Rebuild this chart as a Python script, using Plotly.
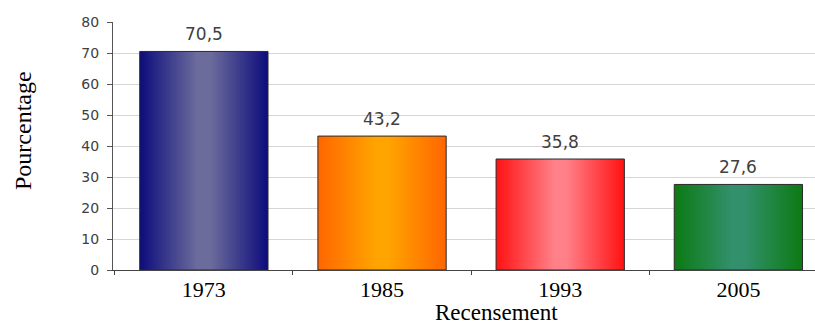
import plotly.graph_objects as go

# Census years and share (%) per year
years = ["1973", "1985", "1993", "2005"]
values = [70.5, 43.2, 35.8, 27.6]

# Edge / centre colours of the horizontal gradient on each bar
edge_colors = ["#0c0c7c", "#ff6600", "#ff1212", "#0b7a12"]
center_colors = ["#6c6c9c", "#ffa400", "#ff8088", "#32906c"]

y_ticks = list(range(0, 81, 10))

half_width = 0.36
positions = list(range(len(years)))

fig = go.Figure()

for pos, val, edge, center in zip(positions, values, edge_colors, center_colors):
    fig.add_trace(go.Scatter(
        x=[pos - half_width, pos + half_width, pos + half_width, pos - half_width, pos - half_width],
        y=[0, 0, val, val, 0],
        mode="lines",
        fill="toself",
        fillgradient=dict(
            type="horizontal",
            colorscale=[[0, edge], [0.45, center], [0.55, center], [1, edge]],
        ),
        line=dict(color="#2a2a2a", width=1),
        hoverinfo="skip",
        showlegend=False,
    ))

# Value labels above each bar (decimal comma)
for pos, val in zip(positions, values):
    fig.add_annotation(
        x=pos, y=val, xref="x", yref="y",
        text=f"{val:.1f}".replace(".", ","),
        showarrow=False, yanchor="bottom", yshift=5,
        font=dict(family="DejaVu Sans", size=17, color="#404040"),
    )

# Axis titles
fig.add_annotation(
    x=0.5456, y=-0.173, xref="paper", yref="paper",
    text="Recensement", showarrow=False,
    xanchor="center", yanchor="middle",
    font=dict(family="Liberation Serif", size=23, color="#000000"),
)
fig.add_annotation(
    x=-0.1282, y=0.5605, xref="paper", yref="paper",
    text="Pourcentage", showarrow=False, textangle=-90,
    xanchor="center", yanchor="middle",
    font=dict(family="Liberation Serif", size=24, color="#000000"),
)

fig.update_layout(
    width=815, height=326,
    margin=dict(l=113, r=0, t=22, b=56),
    paper_bgcolor="white", plot_bgcolor="white",
    showlegend=False,
    xaxis=dict(
        range=[-0.51, 3.43],
        tickmode="array", tickvals=positions, ticktext=years,
        ticks="", showgrid=False, zeroline=False,
        showline=True, linecolor="#444444", linewidth=1,
        tickfont=dict(family="Liberation Serif", size=22, color="#000000"),
        minor=dict(tick0=0.5, dtick=1, ticks="outside", ticklen=4,
                   tickcolor="#444444", showgrid=False),
        fixedrange=True,
    ),
    yaxis=dict(
        range=[0, 80],
        tickmode="array", tickvals=y_ticks,
        ticks="outside", ticklen=5, tickcolor="#555555",
        ticklabelstandoff=5,
        showgrid=True, gridcolor="#d6d6d6", gridwidth=1,
        zeroline=False,
        showline=True, linecolor="#555555", linewidth=1,
        tickfont=dict(family="DejaVu Sans", size=14, color="#404040"),
        fixedrange=True,
    ),
)

fig.write_html("out.html")
